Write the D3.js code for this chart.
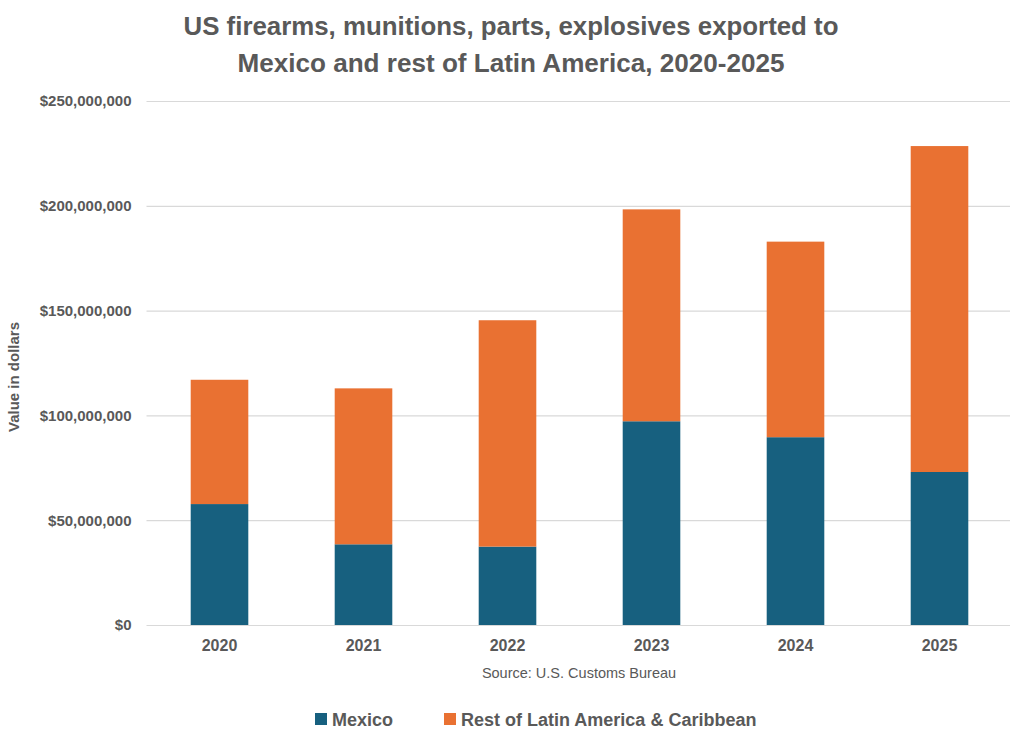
<!DOCTYPE html>
<html>
<head>
<meta charset="utf-8">
<script src="https://cdn.jsdelivr.net/npm/d3@7"></script>
<style>
  html, body { margin: 0; padding: 0; background: #ffffff; }
  svg { display: block; }
</style>
</head>
<body>
<div id="chart"></div>
<script>
// ---- Data ----
const years = ["2020", "2021", "2022", "2023", "2024", "2025"];
const mexico = [57.7e6, 38.5e6, 37.4e6, 97.2e6, 89.6e6, 73.0e6];
const totals = [117.0e6, 112.9e6, 145.4e6, 198.3e6, 182.9e6, 228.5e6];
const restLatAm = totals.map((t, i) => t - mexico[i]);
const seriesNames = ["Mexico", "Rest of Latin America & Caribbean"];
const yTicks = [0, 50e6, 100e6, 150e6, 200e6, 250e6];
const titleLines = [
  "US firearms, munitions, parts, explosives exported to",
  "Mexico and rest of Latin America, 2020-2025"
];
const yAxisTitle = "Value in dollars";
const sourceText = "Source: U.S. Customs Bureau";

// ---- Layout ----
const W = 1024, H = 741;
const colors = ["#17607F", "#E97132"];
const textColor = "#595959";
const font = "'Liberation Sans', Arial, sans-serif";

const svg = d3.select("#chart").append("svg")
  .attr("width", W).attr("height", H)
  .style("font-family", font);

const x = d3.scaleBand().domain(years).range([147.5, 1011.5]).paddingInner(0.6).paddingOuter(0.3);
const y = d3.scaleLinear().domain([0, 250e6]).range([625, 101]);

// Title
const titleG = svg.append("g");
const titleWidths = [655, 547];
const titleBaselines = [35, 71.5];
titleLines.forEach((t, i) => {
  titleG.append("text")
    .attr("x", 511).attr("y", titleBaselines[i])
    .attr("text-anchor", "middle")
    .attr("font-size", 26).attr("font-weight", "bold")
    .attr("fill", textColor)
    .attr("textLength", titleWidths[i])
    .attr("lengthAdjust", "spacingAndGlyphs")
    .text(t);
});

// Gridlines + y axis
const yAxis = d3.axisLeft(y)
  .tickValues(yTicks)
  .tickSize(-(1010 - 146.5))
  .tickPadding(15)
  .tickFormat(d => "$" + d3.format(",")(d));
const gy = svg.append("g").attr("transform", "translate(146.5,0)").call(yAxis);
gy.select(".domain").remove();
gy.selectAll(".tick line").attr("stroke", "#d9d9d9").attr("stroke-width", 1.2);
gy.selectAll(".tick text")
  .attr("font-size", 15).attr("font-weight", "bold")
  .attr("fill", textColor).style("font-family", font);

// Stacked bars
const table = years.map((yr, i) => ({ year: yr, m: mexico[i], r: restLatAm[i] }));
const stack = d3.stack().keys(["m", "r"]);
const stacked = stack(table);
svg.append("g").selectAll("g")
  .data(stacked).join("g")
  .attr("fill", (d, i) => colors[i])
  .selectAll("rect")
  .data(d => d).join("rect")
  .attr("x", d => x(d.data.year))
  .attr("width", x.bandwidth())
  .attr("y", d => y(d[1]))
  .attr("height", d => y(d[0]) - y(d[1]));

// X axis labels
const xAxis = d3.axisBottom(x).tickSize(0).tickPadding(0);
const gx = svg.append("g").attr("transform", "translate(0,640)").call(xAxis);
gx.select(".domain").remove();
gx.selectAll(".tick text")
  .attr("font-size", 16).attr("font-weight", "bold")
  .attr("fill", textColor).style("font-family", font)
  .attr("dy", "0.71em");

// Y axis title
svg.append("text")
  .attr("transform", "translate(18.5,377) rotate(-90)")
  .attr("text-anchor", "middle")
  .attr("font-size", 15).attr("font-weight", "bold")
  .attr("fill", textColor)
  .text(yAxisTitle);

// Source
svg.append("text")
  .attr("x", 579).attr("y", 678)
  .attr("text-anchor", "middle")
  .attr("font-size", 14.5)
  .attr("fill", textColor)
  .text(sourceText);

// Legend
const legendX = [315, 444];
const legend = svg.append("g");
seriesNames.forEach((name, i) => {
  legend.append("rect")
    .attr("x", legendX[i]).attr("y", 713)
    .attr("width", 12).attr("height", 12)
    .attr("fill", colors[i]);
  legend.append("text")
    .attr("x", legendX[i] + 17).attr("y", 725.5)
    .attr("font-size", 18).attr("font-weight", "bold")
    .attr("fill", textColor)
    .text(name);
});
</script>
</body>
</html>
